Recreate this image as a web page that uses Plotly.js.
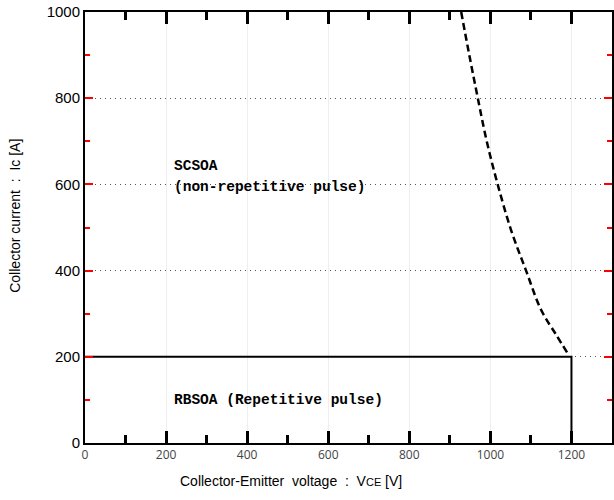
<!DOCTYPE html>
<html>
<head>
<meta charset="utf-8">
<script src="https://cdn.plot.ly/plotly-3.0.1.min.js"></script>
<style>html,body{margin:0;padding:0;background:#fff;}#chart{width:614px;height:500px;}</style>
</head>
<body>
<div id="chart"></div>
<script>
// RBSOA boundary (repetitive pulse)
const rbsoaX = [0, 1200, 1200];
const rbsoaY = [200, 200, 0];
// SCSOA boundary (non-repetitive pulse)
const scsoaX = [928, 948, 969, 991, 1018, 1051, 1088, 1125, 1163, 1190];
const scsoaY = [1000, 900, 800, 700, 600, 494, 400, 309, 250, 209];

const xTitle = 'Collector-Emitter  voltage  :  V<span style="font-size:11px">CE</span> [V]';
const yTitle = 'Collector current  :  Ic [A]';

const annoFont = {family: 'Liberation Mono, DejaVu Sans Mono, monospace', size: 14.5, color: '#000'};
const labelFont = {family: 'Liberation Sans, Arial, sans-serif', size: 14, color: '#000'};

const traces = [
  {x: rbsoaX, y: rbsoaY, mode: 'lines', line: {color: '#000', width: 2}},
  {x: scsoaX, y: scsoaY, mode: 'lines', line: {color: '#000', width: 2.5, dash: '7px,4px', shape: 'spline'}}
];

const layout = {
  width: 614, height: 500,
  margin: {l: 85, r: 2, t: 12, b: 57},
  showlegend: false,
  xaxis: {range: [0, 1300], showline: true, linewidth: 2, linecolor: '#000', mirror: 'ticks', ticks: 'inside', ticklen: 12, tickwidth: 3, tickcolor: '#000', dtick: 200,
          minor: {ticks: 'inside', ticklen: 8, tickcolor: '#000', tickwidth: 3, dtick: 100}},
  yaxis: {range: [0, 1000], showline: true, linewidth: 2, linecolor: '#000', mirror: 'ticks', ticks: 'inside', ticklen: 8, tickwidth: 2, tickcolor: 'red', dtick: 200,
          gridcolor: '#555', griddash: '1px,4px',
          tickfont: {family: 'Liberation Sans, Arial, sans-serif', size: 15, color: '#000'},
          minor: {ticks: 'inside', ticklen: 5, tickcolor: 'red', tickwidth: 2, dtick: 100}},
  annotations: [
    {x: 215, y: 643, xref: 'x', yref: 'y', text: '<b>SCSOA</b>', showarrow: false, xanchor: 'left', yanchor: 'middle', font: annoFont},
    {x: 215, y: 594, xref: 'x', yref: 'y', text: '<b>(non-repetitive pulse)</b>', showarrow: false, xanchor: 'left', yanchor: 'middle', font: annoFont},
    {x: 215, y: 100, xref: 'x', yref: 'y', text: '<b>RBSOA (Repetitive pulse)</b>', showarrow: false, xanchor: 'left', yanchor: 'middle', font: annoFont},
    {x: 0.391, y: -0.088, xref: 'paper', yref: 'paper', text: xTitle, showarrow: false, xanchor: 'center', yanchor: 'middle', font: labelFont},
    {x: -0.133, y: 0.527, xref: 'paper', yref: 'paper', text: yTitle, showarrow: false, textangle: -90, xanchor: 'center', yanchor: 'middle', font: labelFont}
  ]
};

Plotly.newPlot('chart', traces, layout, {displayModeBar: false});
</script>
</body>
</html>
